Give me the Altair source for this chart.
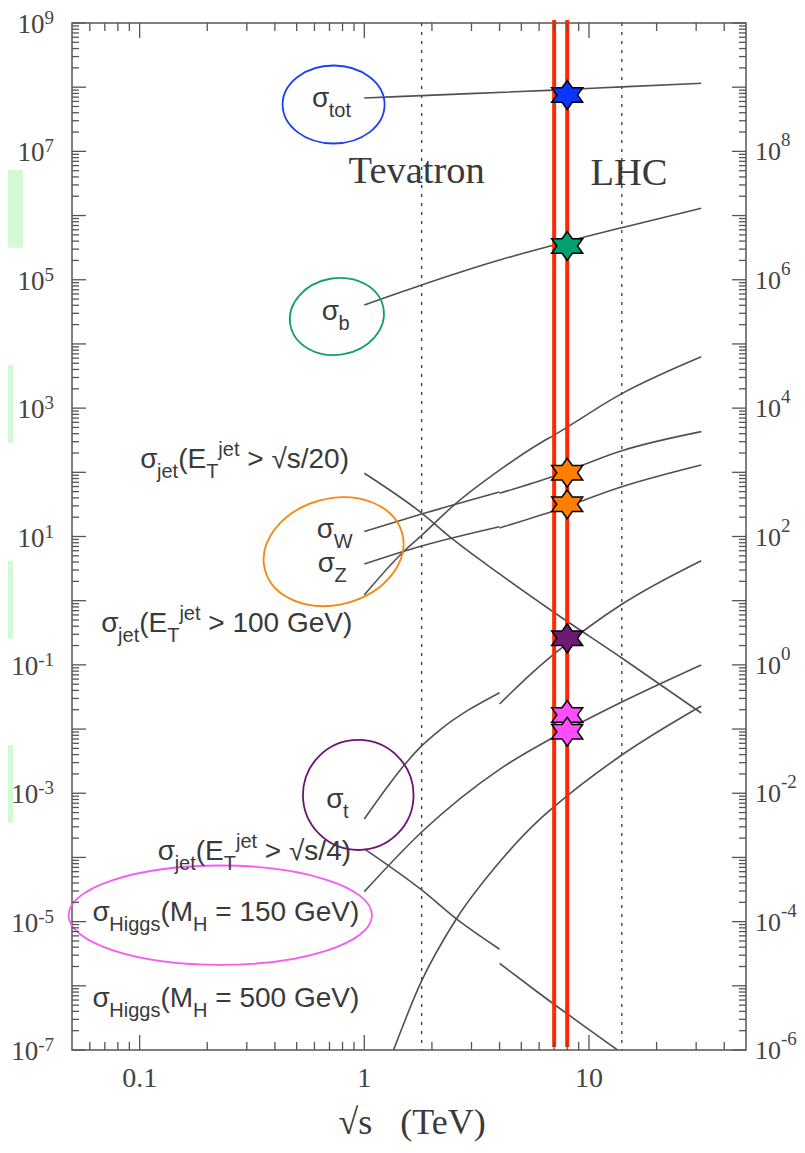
import altair as alt
import pandas as pd

W, H = 674, 1027

# ---------------- curve values: sqrt(s) [TeV], sigma [nb] ----------------
tot_s = [1.0, 1.8, 7.0, 14.0, 31.6]
tot_sig = [6.8e7, 7.4e7, 9.0e7, 1.01e8, 1.15e8]

b_s = [1.0, 1.8, 4.0, 7.0, 14.0, 31.6]
b_sig = [4.05e4, 8.3e4, 2.03e5, 3.48e5, 6.47e5, 1.30e6]

w1_s = [1.0, 1.8, 4.0]
w1_sig = [12.0, 22.4, 49.4]
w2_s = [4.0, 7.0, 14.0, 31.6]
w2_sig = [47.0, 87.7, 217.0, 430.0]

z1_s = [1.0, 1.8, 4.0]
z1_sig = [3.73, 7.11, 14.2]
z2_s = [4.0, 7.0, 14.0, 31.6]
z2_sig = [13.6, 25.2, 59.7, 130.0]

j100_s = [1.0, 1.47, 1.8, 2.5, 4.0, 6.0, 7.0, 14.0, 31.6]
j100_sig = [1.23, 5.48, 10.4, 30.6, 108.0, 278.0, 380.0, 1680.0, 6300.0]

j20_s = [1.0, 1.8, 2.5, 4.0, 7.0, 14.0, 31.6]
j20_sig = [96.6, 23.2, 8.83, 2.61, 0.655, 0.128, 0.0178]

t1_s = [1.0, 1.575, 1.786, 2.14, 4.0]
t1_sig = [3.97e-4, 3.30e-3, 5.32e-3, 9.3e-3, 0.0369]
t2_s = [4.0, 6.0, 7.0, 14.0, 31.6]
t2_sig = [0.0246, 0.0938, 0.148, 0.879, 4.2]

j4a_s = [1.0, 1.8, 2.58, 4.0]
j4a_sig = [1.36e-4, 3.11e-5, 1.09e-5, 3.71e-6]
j4b_s = [4.0, 6.0, 13.4]
j4b_sig = [2.24e-6, 7.66e-7, 1.0e-7]

h150_s = [1.0, 1.8, 4.0, 7.0, 14.0, 31.6]
h150_sig = [2.93e-5, 2.49e-4, 2.36e-3, 7.53e-3, 0.0264, 0.0998]

h500_s = [1.35, 1.78, 2.58, 4.0, 6.0, 7.0, 14.0, 31.6]
h500_sig = [1.0e-7, 1.10e-6, 1.13e-5, 8.5e-5, 3.84e-4, 6.18e-4, 3.94e-3, 0.0229]

# ---------------- measured points at 8 TeV ----------------
star_s = [8.0, 8.0, 8.0, 8.0, 8.0, 8.0, 8.0]
star_sig = [7.55e7, 3.36e5, 98.6, 31.8, 0.259, 0.0166, 0.0091]
star_fill = ["#0a34ff", "#00a070", "#ff8000", "#ff8000", "#6e1a72", "#ff4cff", "#ff4cff"]

red_s = [7.0, 8.0]          # LHC run energies
dotted_s = [1.8, 14.0]      # Tevatron / LHC design

x_tick_vals = [0.1, 1.0, 10.0]
x_tick_labels = ["0.1", "1", "10"]
left_exps = [9, 7, 5, 3, 1, -1, -3, -5, -7]
right_exps = [8, 6, 4, 2, 0, -2, -4, -6]

# ---------------- build tables ----------------
curve_list = [
    ("tot", tot_s, tot_sig), ("b", b_s, b_sig),
    ("w1", w1_s, w1_sig), ("w2", w2_s, w2_sig),
    ("z1", z1_s, z1_sig), ("z2", z2_s, z2_sig),
    ("j100", j100_s, j100_sig), ("j20", j20_s, j20_sig),
    ("t1", t1_s, t1_sig), ("t2", t2_s, t2_sig),
    ("j4a", j4a_s, j4a_sig), ("j4b", j4b_s, j4b_sig),
    ("h150", h150_s, h150_sig), ("h500", h500_s, h500_sig),
]
rows = []
for name, xs_, ys_ in curve_list:
    for i, (a, b) in enumerate(zip(xs_, ys_)):
        rows.append({"series": name, "s": a, "sig": b, "i": i})
curves = pd.DataFrame(rows)

stars = pd.DataFrame({"s": star_s, "sig": star_sig, "fill": star_fill})

xscale = alt.Scale(type="log", domain=[0.05, 50], nice=False)
yscale = alt.Scale(type="log", domain=[1e-7, 1e9], nice=False)
X = alt.X("s:Q", scale=xscale, axis=None)
Y = alt.Y("sig:Q", scale=yscale, axis=None)

GRAY = "#505050"
TXT = "#3a3a3a"

curve_layer = alt.Chart(curves).mark_line(
    color=GRAY, strokeWidth=1.6, interpolate="monotone").encode(
    X, Y, detail="series:N", order="i:Q")

dotted_layer = alt.Chart(pd.DataFrame({"s": dotted_s})).mark_rule(
    color="#444", strokeWidth=1.4, strokeDash=[3, 6]).encode(
    x=X, y=alt.value(0), y2=alt.value(H))

red_layer = alt.Chart(pd.DataFrame({"s": red_s})).mark_rule(
    color="#ff2a00", strokeWidth=4).encode(x=X, y=alt.value(-3), y2=alt.value(H - 3))

HEX = ("M0,-0.935 L0.333,-0.4675 L1,-0.4675 L0.667,0 L1,0.4675 L0.333,0.4675 "
       "L0,0.935 L-0.333,0.4675 L-1,0.4675 L-0.667,0 L-1,-0.4675 L-0.333,-0.4675 Z")
star_layer = alt.Chart(stars).mark_point(
    shape=HEX, size=961, filled=True, stroke="black", strokeWidth=1.5, opacity=1).encode(
    X, Y, fill=alt.Fill("fill:N", scale=None))

# ---------------- ellipses around labels ----------------
ell_s = [0.730, 0.755, 0.730, 0.940, 0.2285]
ell_sig = [5.37e7, 2.68e4, 5.80, 9.4e-4, 1.26e-5]
ell_rx = [51, 47.3, 71, 55.3, 151.7]
ell_ry = [39, 38.3, 53, 55, 49.7]
ell_ang = [0, 350, 345, 0, 0]
ell_col = ["#1f3ff0", "#15a06a", "#f7850f", "#6d1470", "#f55af5"]
erows = []
for a, b, rx, ry, ang, c in zip(ell_s, ell_sig, ell_rx, ell_ry, ell_ang, ell_col):
    r = ry / rx
    path = f"M-1,0 A1,{r:.4f} 0 1,0 1,0 A1,{r:.4f} 0 1,0 -1,0 Z"
    erows.append({"s": a, "sig": b, "path": path, "sz": (2 * rx) ** 2, "ang": ang, "col": c})
ell_layer = alt.Chart(pd.DataFrame(erows)).mark_point(
    filled=False, strokeWidth=1.8, opacity=1).encode(
    X, Y, shape=alt.Shape("path:N", scale=None), size=alt.Size("sz:Q", scale=None),
    color=alt.Color("col:N", scale=None), angle=alt.Angle("ang:Q", scale=None))

# ---------------- curve labels (with sub/superscripts) ----------------
SANS_W = {' ': .278, '(': .333, ')': .333, '>': .584, '=': .584, '/': .278, 'G': .778,
          'e': .556, 'V': .667, 'E': .667, 'T': .611, 'H': .722, 'M': .833, 'i': .222,
          'g': .556, 's': .5, 'j': .222, 't': .278, 'o': .556, 'b': .556, 'W': .944,
          'Z': .611, '√': .549, 'σ': .6}


def tw(txt, table, default):
    return sum(table.get(c, default) for c in txt)


FM, FS = 28, 20
JET = [("σ", "n"), ("jet", "sub"), ("(E", "n"), ("T", "sub"), ("jet", "sup")]
labels = [
    (0.5845, 4.97e7, [("σ", "n"), ("tot", "sub")]),
    (0.647, 2.36e4, [("σ", "n"), ("b", "sub")]),
    (0.1006, 115.6, JET + [(" > √s/20)", "n")]),
    (0.615, 9.38, [("σ", "n"), ("W", "sub")]),
    (0.621, 2.83, [("σ", "n"), ("Z", "sub")]),
    (0.0675, 0.329, JET + [(" > 100 GeV)", "n")]),
    (0.677, 5.83e-4, [("σ", "n"), ("t", "sub")]),
    (0.1205, 9.14e-5, JET + [(" > √s/4)", "n")]),
    (0.0617, 1.035e-5, [("σ", "n"), ("Higgs", "sub"), ("(M", "n"), ("H", "sub"), (" = 150 GeV)", "n")]),
    (0.0617, 4.73e-7, [("σ", "n"), ("Higgs", "sub"), ("(M", "n"), ("H", "sub"), (" = 500 GeV)", "n")]),
]
lrows = []
for s0, sig0, segs in labels:
    cx = 0.0
    for txt, kind in segs:
        fs = FM if kind == "n" else FS
        dy = 0 if kind == "n" else (10 if kind == "sub" else -12)
        lead = len(txt) - len(txt.lstrip(" "))
        cx += lead * SANS_W[' '] * fs
        body = txt.lstrip(" ")
        lrows.append({"s": s0, "sig": sig0, "t": body.replace(" ", "\u00a0"),
                      "dx": cx, "dy": dy, "fs": fs})
        cx += tw(body, SANS_W, .556) * fs
label_layer = alt.Chart(pd.DataFrame(lrows)).mark_text(
    align="left", baseline="alphabetic", font="Liberation Sans", color=TXT,
    dx={"expr": "datum.dx"}, dy={"expr": "datum.dy"}).encode(
    X, Y, text="t:N", size=alt.Size("fs:Q", scale=None))

# Tevatron / LHC / axis title (serif)
big_s = [0.851, 10.15]
big_sig = [3.18e6, 2.99e6]
big_t = ["Tevatron", "LHC"]
big_layer = alt.Chart(pd.DataFrame({"s": big_s, "sig": big_sig, "t": big_t})).mark_text(
    align="left", baseline="alphabetic", font="Liberation Serif", fontSize=38.5, color=TXT).encode(
    X, Y, text="t:N")

title_layer = alt.Chart(pd.DataFrame({"s": [0.768, 1.446], "t": ["√s", "(TeV)"]})).mark_text(
    align="left", baseline="alphabetic", font="Liberation Serif", fontSize=36, color=TXT).encode(
    x=X, y=alt.value(H + 84), text="t:N")

# ---------------- axis ticks (inward) ----------------
maj_y = [10.0 ** k for k in range(-7, 10)]
min_y = [m * 10.0 ** k for k in range(-7, 9) for m in range(2, 10)]
maj_x = [0.1, 1.0, 10.0]
min_x = [m * 0.01 for m in range(6, 10)] + [m * 0.1 for m in range(2, 10)] + \
        [float(m) for m in range(2, 10)] + [20.0, 30.0, 40.0]

TK = dict(color="#555", strokeWidth=1.3)
tick_layers = []
for vals, ln in [(maj_y, 14), (min_y, 7)]:
    d = pd.DataFrame({"sig": vals})
    tick_layers.append(alt.Chart(d).mark_rule(**TK).encode(y=Y, x=alt.value(0), x2=alt.value(ln)))
    tick_layers.append(alt.Chart(d).mark_rule(**TK).encode(y=Y, x=alt.value(W), x2=alt.value(W - ln)))
for vals, ln in [(maj_x, 15), (min_x, 8)]:
    d = pd.DataFrame({"s": vals})
    tick_layers.append(alt.Chart(d).mark_rule(**TK).encode(x=X, y=alt.value(H), y2=alt.value(H - ln)))
    tick_layers.append(alt.Chart(d).mark_rule(**TK).encode(x=X, y=alt.value(0), y2=alt.value(ln)))

# ---------------- axis labels ----------------
SERIF_W = {'-': .333}
F10, FSUP = 27, 19
ten_right, other = [], []
for e in left_exps:
    sw = tw(str(e), SERIF_W, .5) * FSUP
    ten_right.append({"sig": 10.0 ** e, "t": "10", "dx": -(18 + sw), "dy": 10, "fs": F10})
    other.append({"sig": 10.0 ** e, "t": str(e), "dx": -(18 + sw), "dy": 1, "fs": FSUP})
for e in right_exps:
    other.append({"sig": 10.0 ** (e - 1), "t": "10", "dx": W + 9, "dy": 9, "fs": 26})
    other.append({"sig": 10.0 ** (e - 1), "t": str(e), "dx": W + 9 + 26, "dy": -5, "fs": FSUP})

ylab_r = alt.Chart(pd.DataFrame(ten_right)).mark_text(
    align="right", baseline="alphabetic", font="Liberation Serif", color="#444",
    dx={"expr": "datum.dx"}, dy={"expr": "datum.dy"}).encode(
    x=alt.value(0), y=Y, text="t:N", size=alt.Size("fs:Q", scale=None))
ylab_l = alt.Chart(pd.DataFrame(other)).mark_text(
    align="left", baseline="alphabetic", font="Liberation Serif", color="#444",
    dx={"expr": "datum.dx"}, dy={"expr": "datum.dy"}).encode(
    x=alt.value(0), y=Y, text="t:N", size=alt.Size("fs:Q", scale=None))
xlab = alt.Chart(pd.DataFrame({"s": x_tick_vals, "t": x_tick_labels})).mark_text(
    align="center", baseline="alphabetic", font="Liberation Serif", fontSize=28, color="#444").encode(
    x=X, y=alt.value(H + 37), text="t:N")

# ---------------- light green boxes at the left edge ----------------
box_lo = [10 ** 5.50, 10 ** 2.462, 10 ** -0.592, 10 ** -3.458]
box_hi = [10 ** 6.710, 10 ** 3.672, 10 ** 0.623, 10 ** -2.248]
bx = pd.DataFrame({"sig": box_lo, "sig2": box_hi})
box1 = alt.Chart(bx.iloc[:1]).mark_rect(color="#d3fad3").encode(
    y=Y, y2="sig2:Q", x=alt.value(-64), x2=alt.value(-49))
box2 = alt.Chart(bx.iloc[1:]).mark_rect(color="#d3fad3").encode(
    y=Y, y2="sig2:Q", x=alt.value(-64), x2=alt.value(-59))

chart = alt.layer(
    dotted_layer, curve_layer, red_layer, star_layer, ell_layer, label_layer,
    big_layer, title_layer, *tick_layers, ylab_r, ylab_l, xlab, box1, box2
).properties(
    width=W, height=H,
    padding={"left": 64, "top": 15, "right": 51, "bottom": 92},
    autosize=alt.AutoSizeParams(type="none"),
).configure_view(stroke="#555", strokeWidth=1.5)

chart.save("out.html", embed_options={"renderer": "svg", "actions": False})
